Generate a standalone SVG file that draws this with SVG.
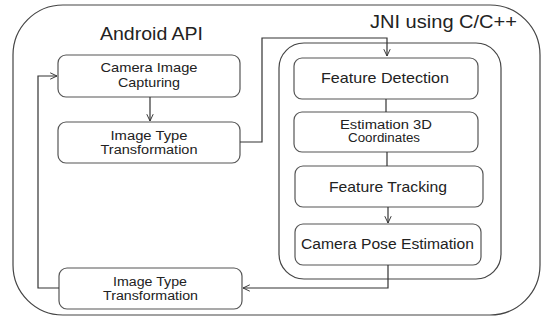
<svg xmlns="http://www.w3.org/2000/svg" width="542" height="324" viewBox="0 0 542 324">
<defs>
<marker id="arr" viewBox="0 0 10 10" refX="9.5" refY="5" markerWidth="8" markerHeight="8" markerUnits="userSpaceOnUse" orient="auto">
<path d="M1,1 L9.5,5 L1,9" fill="none" stroke="#333" stroke-width="1.2"/>
</marker>
</defs>
<style>
.c{fill:#fff;stroke:#444;stroke-width:1.2}
.b{fill:#fff;stroke:#555;stroke-width:1.2}
.t{font-family:"Liberation Sans",Arial,sans-serif;fill:#222;text-anchor:middle}
.l{fill:none;stroke:#333;stroke-width:1.2}
</style>
<rect width="542" height="324" fill="#fff"/>
<g id="android-api">
<rect class="c" x="13" y="5" width="527" height="310" rx="50" ry="50"/>
<text class="t" x="151.5" y="40" font-size="18" textLength="103" lengthAdjust="spacingAndGlyphs">Android API</text>
<text class="t" x="443.5" y="28" font-size="18" textLength="147" lengthAdjust="spacingAndGlyphs">JNI using C/C++</text>
</g>
<g id="jni">
<rect class="c" x="279" y="43" width="222" height="236" rx="25" ry="25"/>
</g>
<g id="camera-capture">
<rect class="b" x="58" y="55" width="182" height="42" rx="8"/>
<text class="t" x="149" y="72" font-size="13" textLength="97" lengthAdjust="spacingAndGlyphs">Camera Image</text>
<text class="t" x="149" y="87" font-size="13" textLength="62" lengthAdjust="spacingAndGlyphs">Capturing</text>
</g>
<g id="image-type-1">
<rect class="b" x="58" y="122" width="182" height="41" rx="8"/>
<text class="t" x="149" y="140" font-size="12.5" textLength="77" lengthAdjust="spacingAndGlyphs">Image Type</text>
<text class="t" x="149" y="154" font-size="12.5" textLength="97" lengthAdjust="spacingAndGlyphs">Transformation</text>
</g>
<g id="feature-detection">
<rect class="b" x="294" y="58" width="184" height="41" rx="8"/>
<text class="t" x="385" y="83" font-size="15" textLength="128" lengthAdjust="spacingAndGlyphs">Feature Detection</text>
</g>
<g id="estimation-3d">
<rect class="b" x="294" y="112" width="184" height="40" rx="8"/>
<text class="t" x="386" y="129" font-size="12" textLength="92" lengthAdjust="spacingAndGlyphs">Estimation  3D</text>
<text class="t" x="384" y="142" font-size="12" textLength="72" lengthAdjust="spacingAndGlyphs">Coordinates</text>
</g>
<g id="feature-tracking">
<rect class="b" x="295" y="166" width="188" height="41" rx="8"/>
<text class="t" x="388" y="192" font-size="15" textLength="118" lengthAdjust="spacingAndGlyphs">Feature Tracking</text>
</g>
<g id="camera-pose">
<rect class="b" x="295" y="224" width="186" height="41" rx="8"/>
<text class="t" x="387.5" y="249" font-size="15.5" textLength="173" lengthAdjust="spacingAndGlyphs">Camera Pose  Estimation</text>
</g>
<g id="image-type-2">
<rect class="b" x="59" y="268" width="183" height="41" rx="8"/>
<text class="t" x="150" y="286" font-size="12.5" textLength="74" lengthAdjust="spacingAndGlyphs">Image Type</text>
<text class="t" x="150.5" y="300" font-size="12.5" textLength="95" lengthAdjust="spacingAndGlyphs">Transformation</text>
</g>
<g id="connectors">
<path class="l" d="M150,97 V121" marker-end="url(#arr)"/>
<path class="l" d="M240,142 H262 V38 H387 V56" marker-end="url(#arr)"/>
<path class="l" d="M386,99 V112"/>
<path class="l" d="M387,152 V166"/>
<path class="l" d="M388,207 V223" marker-end="url(#arr)"/>
<path class="l" d="M388,265 V288 H243" marker-end="url(#arr)"/>
<path class="l" d="M59,288 H38 V76 H57" marker-end="url(#arr)"/>
</g>
</svg>
